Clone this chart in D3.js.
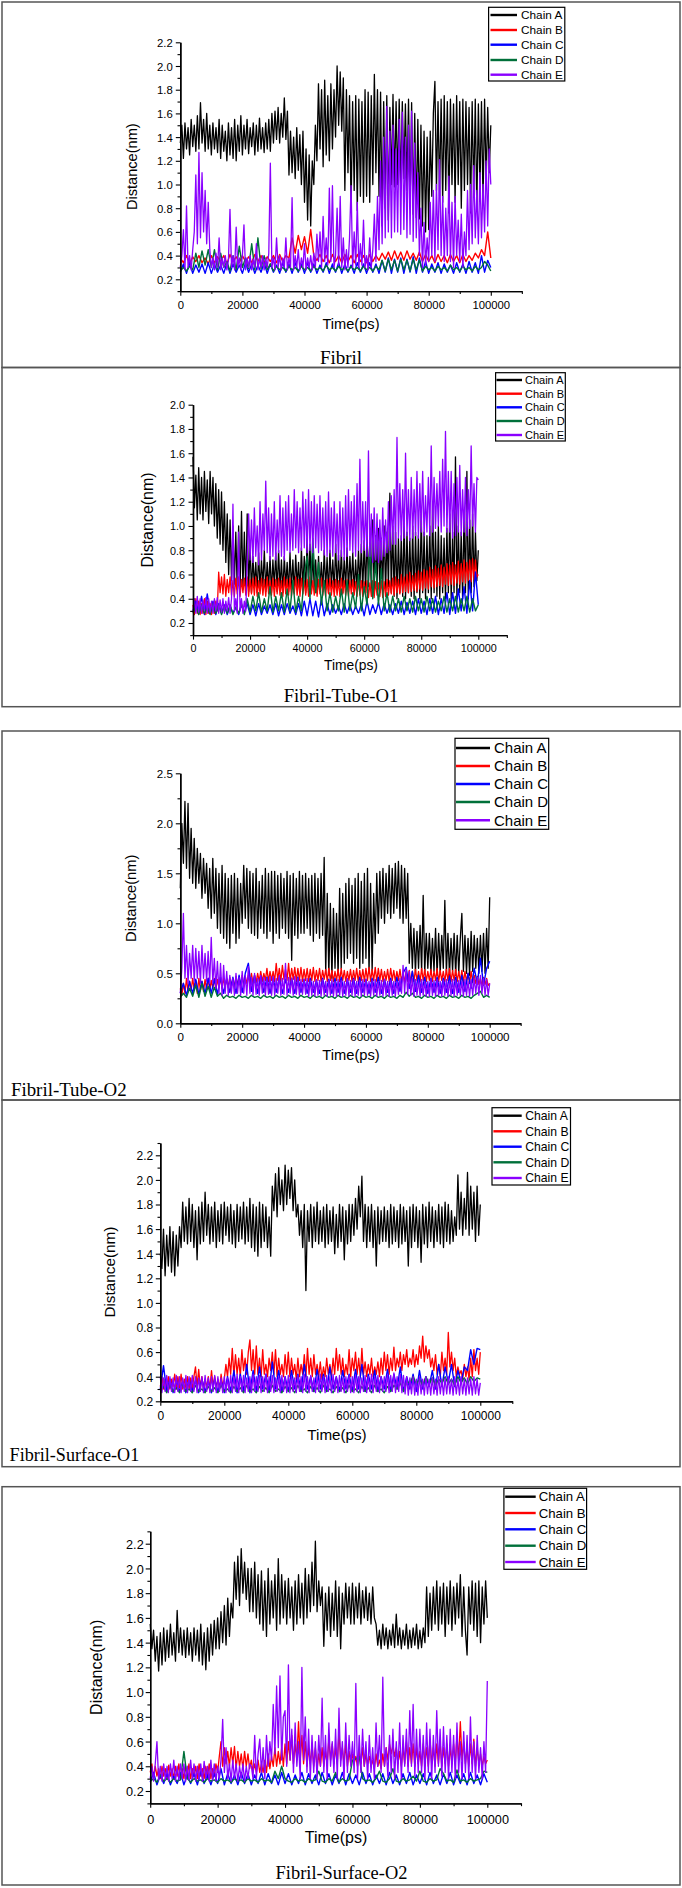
<!DOCTYPE html>
<html><head><meta charset="utf-8">
<script src="https://cdn.jsdelivr.net/npm/d3@7"></script>
<style>
html,body{margin:0;padding:0;background:#fff;}
svg{display:block;}
</style></head><body>
<svg id="c" width="682" height="1888"></svg>
<script>
// ---------------- DATA ----------------
const chains = ["Chain A","Chain B","Chain C","Chain D","Chain E"];
const panelTitles = ["Fibril","Fibril-Tube-O1","Fibril-Tube-O2","Fibril-Surface-O1","Fibril-Surface-O2"];
const xTickValues = [0,20000,40000,60000,80000,100000];
const xMinorValues = [10000,30000,50000,70000,90000,110000];
const yTicks1 = [0.2,0.4,0.6,0.8,1.0,1.2,1.4,1.6,1.8,2.0,2.2];
const yTicks2 = [0.2,0.4,0.6,0.8,1.0,1.2,1.4,1.6,1.8,2.0];
const yTicks3 = [0.0,0.5,1.0,1.5,2.0,2.5];
const yTicks4 = [0.2,0.4,0.6,0.8,1.0,1.2,1.4,1.6,1.8,2.0,2.2];
const yTicks5 = [0.2,0.4,0.6,0.8,1.0,1.2,1.4,1.6,1.8,2.0,2.2];

// Each series is sampled evenly over 0..100000 ps (values in nm).
// Panel 1: Fibril
const p1A = [1.35,1.50,1.22,1.52,1.30,1.48,1.25,1.55,1.32,1.50,1.28,1.58,1.30,1.69,1.35,1.55,1.28,1.60,1.30,1.50,
 1.25,1.52,1.30,1.48,1.27,1.55,1.22,1.50,1.28,1.45,1.20,1.52,1.25,1.48,1.22,1.55,1.20,1.50,1.28,1.58,
 1.25,1.50,1.30,1.55,1.26,1.48,1.32,1.52,1.25,1.50,1.28,1.56,1.30,1.48,1.27,1.52,1.30,1.55,1.28,1.60,
 1.35,1.62,1.38,1.65,1.35,1.60,1.40,1.73,1.38,1.62,1.08,1.45,1.10,1.40,1.05,1.48,1.12,1.42,1.00,1.45,
 0.85,1.30,0.70,1.25,0.65,1.20,1.00,1.50,1.20,1.85,1.30,1.80,1.15,1.88,1.25,1.75,1.20,1.85,1.30,1.80,
 1.40,2.00,1.50,1.95,1.45,1.90,0.95,1.80,1.10,1.75,0.80,1.70,0.95,1.75,0.78,1.72,0.90,1.70,0.85,1.80,
 0.90,1.78,0.85,1.75,1.00,1.93,1.10,1.80,0.90,1.78,0.65,1.70,0.80,1.75,0.70,1.65,1.00,1.76,0.98,1.70,
 1.00,1.72,0.96,1.70,1.05,1.68,0.95,1.72,0.80,1.69,0.75,1.60,0.72,1.55,0.71,1.50,0.65,1.45,0.60,1.40,
 0.62,1.45,0.90,1.60,1.87,0.95,1.70,0.90,1.72,0.85,1.75,0.95,1.70,0.76,1.72,1.00,1.68,0.85,1.75,1.00,
 1.70,0.80,1.72,0.95,1.70,1.00,1.65,0.76,1.70,0.90,1.72,0.78,1.68,0.95,1.70,0.85,1.72,1.00,1.65,1.10,1.50];
const p1B = [0.38,0.34,0.40,0.33,0.39,0.35,0.40,0.34,0.38,0.33,
 0.40,0.34,0.39,0.35,0.40,0.33,0.41,0.35,0.39,0.34,
 0.40,0.35,0.39,0.34,0.41,0.35,0.40,0.34,0.39,0.35,
 0.40,0.34,0.41,0.35,0.40,0.38,0.55,0.42,0.57,0.45,
 0.56,0.42,0.62,0.40,0.36,0.41,0.35,0.40,0.34,0.41,
 0.35,0.40,0.34,0.41,0.35,0.40,0.34,0.41,0.35,0.40,
 0.34,0.41,0.35,0.40,0.36,0.42,0.37,0.43,0.36,0.44,
 0.37,0.43,0.36,0.44,0.37,0.42,0.36,0.43,0.35,0.41,
 0.35,0.40,0.34,0.41,0.35,0.40,0.34,0.41,0.35,0.40,
 0.34,0.41,0.35,0.40,0.36,0.42,0.38,0.45,0.40,0.60,0.38];
const p1C = [0.26,0.33,0.25,0.34,0.25,0.32,0.26,0.33,0.25,0.34,
 0.25,0.33,0.26,0.32,0.25,0.34,0.25,0.33,0.26,0.32,
 0.25,0.34,0.26,0.33,0.25,0.32,0.26,0.34,0.25,0.33,
 0.26,0.32,0.25,0.34,0.26,0.33,0.25,0.34,0.26,0.33,
 0.25,0.34,0.26,0.33,0.25,0.32,0.26,0.34,0.25,0.33,
 0.26,0.34,0.25,0.33,0.26,0.32,0.25,0.34,0.26,0.33,
 0.25,0.34,0.26,0.33,0.25,0.36,0.26,0.38,0.25,0.37,
 0.26,0.38,0.25,0.37,0.26,0.39,0.25,0.38,0.26,0.35,
 0.25,0.33,0.26,0.34,0.25,0.33,0.26,0.32,0.25,0.34,
 0.26,0.33,0.25,0.35,0.26,0.34,0.25,0.40,0.26,0.36,0.30];
const p1D = [0.27,0.30,0.27,0.31,0.28,0.42,0.30,0.44,0.32,0.45,
 0.30,0.45,0.28,0.42,0.30,0.35,0.27,0.40,0.28,0.48,
 0.30,0.38,0.29,0.50,0.28,0.55,0.29,0.40,0.28,0.33,
 0.27,0.31,0.28,0.30,0.27,0.31,0.28,0.30,0.27,0.31,
 0.28,0.30,0.27,0.31,0.28,0.30,0.27,0.32,0.28,0.30,
 0.27,0.31,0.28,0.30,0.27,0.31,0.28,0.30,0.27,0.31,
 0.28,0.30,0.27,0.31,0.28,0.36,0.27,0.37,0.28,0.36,
 0.27,0.37,0.28,0.36,0.27,0.37,0.28,0.36,0.27,0.31,
 0.28,0.30,0.27,0.31,0.28,0.30,0.27,0.32,0.28,0.30,
 0.27,0.31,0.28,0.30,0.27,0.31,0.28,0.30,0.35,0.32,0.27];
const p1E = [0.30,0.40,0.62,0.28,0.82,0.30,0.40,0.28,0.45,0.60,1.08,0.50,1.27,0.55,1.10,0.60,0.95,0.50,0.85,0.45,
 0.30,0.38,0.28,0.42,0.30,0.55,0.28,0.38,0.30,0.40,0.28,0.36,0.79,0.30,0.40,0.28,0.64,0.30,0.38,0.28,
 0.40,0.66,0.28,0.38,0.30,0.40,0.28,0.37,0.30,0.50,0.28,0.38,0.30,0.40,0.28,0.38,0.30,0.42,1.18,0.30,
 0.38,0.28,0.55,0.30,0.40,0.28,0.38,0.30,0.55,0.28,0.38,0.30,0.89,0.28,0.40,0.30,0.45,0.28,0.38,0.30,
 0.50,0.28,0.38,0.30,0.40,0.28,0.42,0.30,0.58,0.35,0.60,0.30,0.73,0.35,0.55,0.32,0.97,0.35,0.99,0.30,
 0.40,0.80,0.32,0.90,0.30,0.55,0.28,0.45,0.30,0.55,0.99,0.30,0.60,0.32,0.85,0.30,0.50,0.32,0.70,0.30,
 0.40,0.28,0.55,0.30,0.45,0.75,0.35,0.90,0.45,1.20,0.50,1.40,0.55,1.66,0.60,1.45,0.55,1.50,0.60,1.30,
 0.60,1.55,0.58,1.61,0.62,1.40,0.55,1.50,0.58,1.62,0.52,1.35,0.55,1.10,0.40,0.80,0.30,0.68,0.32,0.55,
 0.35,0.85,0.40,0.95,0.35,1.00,0.45,1.21,0.40,0.90,0.35,0.80,0.40,1.07,0.35,0.85,0.30,0.90,0.40,0.70,
 0.35,0.75,0.30,0.60,0.40,0.95,0.45,1.00,0.50,1.16,0.55,0.95,0.50,1.10,0.55,1.00,0.60,1.20,0.65,1.30,1.00];

// Panel 2: Fibril-Tube-O1
const p2A = [1.57,1.15,1.42,1.05,1.48,1.10,1.40,1.05,1.45,1.12,1.38,1.02,1.45,1.10,1.40,1.00,1.35,0.90,1.30,0.85,
 1.28,0.80,1.20,0.70,1.10,0.60,1.05,0.55,1.00,0.52,0.95,0.48,1.00,0.45,1.12,0.48,0.95,0.45,1.10,0.46,
 0.85,0.45,0.75,0.50,0.70,0.45,0.78,0.48,0.72,0.50,0.80,0.46,0.70,0.48,0.75,0.45,0.72,0.50,0.78,0.46,
 0.80,0.48,0.72,0.45,0.75,0.50,0.70,0.46,0.78,0.48,0.72,0.45,0.76,0.50,0.70,0.46,0.82,0.48,0.75,0.45,
 0.90,0.50,0.85,0.46,0.78,0.48,0.72,0.45,0.75,0.50,0.70,0.46,0.80,0.48,0.74,0.45,0.80,0.50,0.72,0.46,
 0.85,0.48,0.76,0.50,0.80,0.45,0.74,0.48,0.82,0.46,0.75,0.50,0.78,0.45,0.72,0.48,0.80,0.50,0.85,0.46,
 0.88,0.45,0.95,0.50,0.90,0.48,1.05,0.46,0.92,0.50,0.98,0.45,0.90,0.48,1.00,0.45,0.95,0.50,1.27,0.45,
 1.00,0.42,0.95,0.40,0.90,0.45,0.92,0.42,1.05,0.40,0.95,0.45,0.90,0.42,1.00,0.40,0.95,0.45,0.92,0.40,
 1.10,0.45,0.95,0.40,0.92,0.45,1.00,0.40,1.20,0.45,0.95,0.42,1.00,0.40,0.92,0.45,0.90,0.40,0.98,0.45,
 1.10,0.40,0.95,0.45,1.57,0.40,1.00,0.45,0.95,0.40,1.10,0.45,1.45,0.40,1.05,0.45,1.10,0.50,0.95,0.55,0.80];
const p2B = [0.35,0.27,0.40,0.28,0.38,0.27,0.36,0.28,0.40,0.27,0.38,0.28,0.36,0.27,0.35,0.28,0.38,0.30,0.62,0.45,
 0.58,0.44,0.60,0.42,0.56,0.45,0.58,0.43,0.55,0.42,0.57,0.44,0.58,0.42,0.56,0.45,0.57,0.43,0.58,0.42,
 0.56,0.44,0.57,0.43,0.58,0.42,0.55,0.44,0.57,0.43,0.56,0.42,0.58,0.44,0.55,0.43,0.57,0.42,0.56,0.44,
 0.57,0.43,0.55,0.42,0.58,0.44,0.56,0.43,0.57,0.42,0.55,0.44,0.58,0.43,0.56,0.42,0.57,0.44,0.55,0.43,
 0.56,0.42,0.58,0.44,0.55,0.43,0.57,0.42,0.56,0.44,0.57,0.43,0.55,0.42,0.56,0.44,0.57,0.43,0.55,0.42,
 0.56,0.43,0.55,0.42,0.57,0.44,0.55,0.43,0.56,0.42,0.55,0.44,0.56,0.43,0.54,0.42,0.56,0.43,0.55,0.42,
 0.54,0.43,0.55,0.41,0.53,0.42,0.55,0.41,0.54,0.43,0.53,0.42,0.55,0.41,0.54,0.42,0.56,0.43,0.55,0.44,
 0.57,0.43,0.58,0.45,0.56,0.44,0.60,0.45,0.58,0.46,0.60,0.45,0.62,0.46,0.59,0.47,0.61,0.46,0.63,0.48,
 0.62,0.47,0.64,0.49,0.63,0.48,0.66,0.50,0.64,0.49,0.67,0.50,0.65,0.51,0.68,0.50,0.66,0.52,0.69,0.51,
 0.68,0.52,0.70,0.51,0.68,0.53,0.71,0.52,0.69,0.54,0.72,0.53,0.70,0.55,0.72,0.54,0.73,0.56,0.72,0.58,0.60];
const p2C = [0.30,0.38,0.28,0.42,0.27,0.44,0.28,0.38,0.27,0.36,
 0.28,0.35,0.27,0.34,0.28,0.33,0.27,0.35,0.28,0.36,
 0.27,0.35,0.26,0.36,0.27,0.34,0.28,0.35,0.27,0.36,
 0.26,0.35,0.27,0.36,0.28,0.34,0.27,0.36,0.26,0.38,
 0.26,0.40,0.26,0.38,0.25,0.40,0.26,0.36,0.27,0.35,
 0.28,0.34,0.27,0.36,0.28,0.35,0.27,0.34,0.28,0.36,
 0.26,0.38,0.27,0.35,0.28,0.37,0.27,0.36,0.28,0.35,
 0.27,0.36,0.28,0.38,0.27,0.37,0.28,0.38,0.27,0.40,
 0.28,0.38,0.27,0.40,0.28,0.42,0.27,0.40,0.28,0.45,
 0.27,0.45,0.28,0.48,0.30,0.50,0.28,0.55,0.30,0.62,0.35];
const p2D = [0.28,0.34,0.27,0.35,0.28,0.33,0.27,0.36,0.28,0.35,
 0.27,0.34,0.28,0.35,0.27,0.33,0.28,0.36,0.27,0.40,
 0.29,0.42,0.30,0.45,0.29,0.40,0.30,0.50,0.29,0.42,
 0.30,0.45,0.29,0.48,0.30,0.55,0.29,0.42,0.30,0.60,
 0.75,0.40,0.90,0.45,0.70,0.35,0.55,0.30,0.45,0.29,
 0.42,0.30,0.48,0.29,0.55,0.30,0.45,0.32,0.60,0.30,
 0.50,0.35,0.85,0.40,0.70,0.35,0.65,0.30,0.45,0.29,
 0.42,0.30,0.40,0.29,0.42,0.30,0.40,0.29,0.42,0.30,
 0.40,0.29,0.42,0.30,0.40,0.29,0.38,0.30,0.42,0.29,
 0.40,0.30,0.42,0.29,0.40,0.30,0.42,0.29,0.40,0.30,0.35];
const p2E = [0.30,0.40,0.28,0.42,0.29,0.40,0.28,0.39,0.30,0.41,0.28,0.40,0.29,0.38,0.28,0.40,0.30,0.41,0.28,0.39,
 0.29,0.40,0.28,0.38,0.30,0.41,0.28,0.40,1.18,0.30,0.40,0.28,0.95,0.30,0.40,0.28,0.38,0.30,0.72,1.10,
 0.72,1.05,0.70,1.15,0.75,1.00,0.68,1.20,0.72,1.10,0.80,1.37,0.78,1.15,0.72,1.10,0.75,1.20,0.72,1.05,
 0.78,1.25,0.75,1.15,0.72,1.20,0.80,1.25,0.78,1.10,0.80,1.30,0.82,1.20,0.78,1.15,0.80,1.28,0.82,1.22,
 0.78,1.30,0.80,1.20,0.78,1.25,0.82,1.18,0.78,1.25,0.80,1.15,0.76,1.20,0.75,1.28,0.78,1.15,0.75,1.20,
 0.78,1.10,0.72,1.20,0.75,1.15,0.72,1.25,0.75,1.30,0.80,1.20,0.78,1.25,0.75,1.35,0.80,1.55,0.78,1.20,
 0.80,1.20,0.75,1.62,0.75,1.10,0.70,1.15,0.72,1.10,0.70,1.05,0.72,1.15,0.75,1.05,0.78,1.20,0.80,1.25,
 0.85,1.30,0.85,1.73,0.90,1.35,0.88,1.30,0.90,1.60,0.92,1.30,0.88,1.40,0.90,1.30,0.92,1.45,0.90,1.35,
 0.95,1.45,0.92,1.25,0.95,1.40,0.92,1.66,0.95,1.40,0.98,1.35,1.00,1.45,0.95,1.55,1.00,1.78,0.95,1.45,
 0.95,1.45,0.90,1.35,0.92,1.40,0.95,1.50,0.92,1.30,0.95,1.40,0.92,1.30,0.98,1.66,1.00,1.35,0.95,1.40,1.38];

// Panel 3: Fibril-Tube-O2
const p3A = [1.35,2.00,1.60,2.22,1.55,2.20,1.45,1.95,1.40,1.85,1.35,1.75,1.40,1.70,1.25,1.65,1.30,1.60,1.15,1.55,
 1.05,1.65,1.10,1.55,0.95,1.50,0.90,1.58,0.85,1.50,0.80,1.45,0.75,1.48,0.90,1.50,0.80,1.45,0.85,1.40,
 1.00,1.58,1.05,1.55,0.95,1.52,0.90,1.50,0.88,1.55,0.85,1.42,0.95,1.48,0.90,1.55,0.85,1.50,0.92,1.52,
 0.80,1.52,0.90,1.48,0.85,1.50,0.95,1.45,0.90,1.52,0.85,1.48,0.63,1.50,0.88,1.45,0.85,1.52,0.90,1.48,
 0.90,1.50,0.95,1.45,0.88,1.48,0.82,1.50,0.90,1.45,0.85,1.50,0.88,1.66,0.50,1.30,0.48,1.20,0.45,1.15,
 0.55,1.10,0.48,1.35,0.55,1.30,0.60,1.40,0.65,1.45,0.70,1.38,0.60,1.45,0.65,1.50,0.55,1.42,0.60,1.50,
 0.65,1.55,0.50,1.40,0.52,1.30,0.80,1.50,0.90,1.52,1.05,1.55,1.00,1.50,1.10,1.58,1.05,1.55,1.10,1.60,
 1.15,1.62,1.05,1.58,1.00,1.55,1.05,1.50,0.60,1.00,0.55,0.95,0.50,0.92,0.55,0.98,0.52,1.28,0.50,0.90,
 0.55,0.90,0.50,0.85,0.52,0.95,0.48,0.90,0.50,0.88,0.55,1.23,0.50,0.90,0.48,0.85,0.52,0.90,0.48,0.88,
 0.50,0.85,1.10,0.52,0.88,0.50,0.85,0.48,0.92,0.52,0.88,0.55,0.85,0.50,0.88,0.52,0.90,0.50,0.95,0.55,1.26];
const p3B = [0.35,0.28,0.40,0.30,0.45,0.32,0.42,0.33,0.45,0.34,0.43,0.30,0.45,0.33,0.42,0.32,0.44,0.34,0.45,0.33,
 0.43,0.35,0.45,0.34,0.44,0.36,0.46,0.35,0.45,0.37,0.44,0.36,0.46,0.37,0.45,0.36,0.47,0.38,0.46,0.37,
 0.48,0.38,0.47,0.40,0.48,0.39,0.50,0.40,0.48,0.41,0.50,0.42,0.52,0.42,0.50,0.43,0.55,0.42,0.52,0.43,
 0.52,0.42,0.60,0.43,0.55,0.42,0.58,0.44,0.54,0.43,0.60,0.42,0.55,0.44,0.56,0.42,0.55,0.43,0.56,0.42,
 0.54,0.43,0.55,0.42,0.54,0.43,0.56,0.42,0.53,0.43,0.55,0.42,0.53,0.44,0.54,0.42,0.55,0.43,0.53,0.42,
 0.52,0.43,0.54,0.42,0.55,0.43,0.53,0.42,0.52,0.43,0.54,0.42,0.53,0.43,0.55,0.42,0.53,0.43,0.54,0.42,
 0.55,0.43,0.56,0.42,0.54,0.43,0.56,0.42,0.55,0.43,0.54,0.42,0.52,0.43,0.54,0.42,0.55,0.43,0.53,0.42,
 0.52,0.43,0.54,0.42,0.50,0.41,0.52,0.42,0.53,0.41,0.52,0.42,0.54,0.43,0.52,0.42,0.55,0.43,0.54,0.42,
 0.52,0.43,0.54,0.42,0.52,0.43,0.55,0.42,0.53,0.43,0.52,0.42,0.54,0.43,0.55,0.42,0.53,0.43,0.54,0.42,
 0.52,0.42,0.53,0.41,0.52,0.42,0.50,0.40,0.52,0.41,0.48,0.40,0.47,0.39,0.45,0.38,0.46,0.39,0.45,0.38,0.40];
const p3C = [0.30,0.40,0.28,0.42,0.30,0.44,0.29,0.42,0.30,0.45,
 0.30,0.44,0.29,0.46,0.30,0.45,0.31,0.46,0.30,0.48,
 0.31,0.50,0.60,0.32,0.48,0.30,0.47,0.31,0.46,0.30,
 0.45,0.31,0.46,0.30,0.44,0.31,0.45,0.30,0.46,0.31,
 0.44,0.30,0.45,0.31,0.43,0.30,0.45,0.31,0.44,0.30,
 0.45,0.31,0.46,0.30,0.44,0.31,0.45,0.30,0.46,0.31,
 0.44,0.30,0.45,0.31,0.46,0.30,0.44,0.31,0.45,0.30,
 0.46,0.32,0.50,0.56,0.35,0.52,0.32,0.48,0.31,0.46,
 0.30,0.45,0.31,0.46,0.30,0.45,0.31,0.47,0.30,0.46,
 0.31,0.48,0.32,0.50,0.35,0.55,0.40,0.65,0.38,0.55,0.62];
const p3D = [0.26,0.30,0.26,0.35,0.27,0.38,0.26,0.40,0.27,0.37,
 0.26,0.36,0.27,0.30,0.25,0.28,0.26,0.27,0.25,0.28,
 0.26,0.27,0.25,0.28,0.26,0.27,0.25,0.28,0.26,0.27,
 0.25,0.28,0.26,0.27,0.25,0.28,0.26,0.27,0.25,0.28,
 0.26,0.27,0.25,0.28,0.26,0.27,0.25,0.28,0.26,0.27,
 0.25,0.28,0.26,0.27,0.25,0.28,0.26,0.27,0.25,0.28,
 0.26,0.27,0.25,0.28,0.26,0.27,0.25,0.28,0.26,0.27,
 0.25,0.28,0.26,0.31,0.27,0.30,0.26,0.27,0.25,0.28,
 0.26,0.27,0.25,0.28,0.26,0.27,0.25,0.28,0.26,0.27,
 0.25,0.28,0.26,0.27,0.25,0.28,0.30,0.32,0.26,0.28,0.26];
const p3E = [0.30,0.55,1.10,0.45,0.78,0.40,0.70,0.45,0.78,0.42,0.75,0.45,0.72,0.40,0.78,0.45,0.70,0.42,0.72,0.40,
 0.86,0.40,0.65,0.35,0.62,0.30,0.60,0.28,0.58,0.30,0.52,0.28,0.48,0.30,0.45,0.28,0.50,0.30,0.46,0.28,
 0.52,0.30,0.48,0.28,0.57,0.30,0.46,0.28,0.50,0.29,0.45,0.28,0.48,0.30,0.46,0.28,0.45,0.29,0.47,0.28,
 0.47,0.28,0.45,0.30,0.48,0.28,0.45,0.29,0.60,0.28,0.46,0.30,0.45,0.28,0.47,0.29,0.45,0.28,0.44,0.29,
 0.44,0.29,0.45,0.27,0.43,0.28,0.42,0.27,0.44,0.28,0.43,0.27,0.44,0.28,0.42,0.27,0.43,0.28,0.44,0.27,
 0.42,0.27,0.44,0.28,0.43,0.27,0.42,0.28,0.45,0.27,0.43,0.28,0.44,0.27,0.42,0.28,0.43,0.27,0.44,0.28,
 0.44,0.28,0.42,0.27,0.43,0.28,0.44,0.27,0.42,0.28,0.43,0.27,0.44,0.28,0.42,0.27,0.43,0.28,0.42,0.27,
 0.42,0.29,0.45,0.30,0.58,0.30,0.55,0.29,0.52,0.28,0.45,0.27,0.44,0.28,0.43,0.27,0.44,0.28,0.42,0.27,
 0.42,0.27,0.44,0.28,0.43,0.27,0.44,0.28,0.42,0.27,0.43,0.28,0.44,0.27,0.42,0.28,0.44,0.27,0.43,0.28,
 0.43,0.28,0.42,0.27,0.44,0.28,0.42,0.27,0.44,0.28,0.45,0.30,0.46,0.28,0.48,0.30,0.45,0.28,0.44,0.28,0.40];

// Panel 4: Fibril-Surface-O1
const p4A = [1.40,1.28,1.60,1.22,1.55,1.30,1.62,1.25,1.58,1.22,1.55,1.30,1.62,1.45,1.82,1.50,1.78,1.48,1.85,1.50,
 1.80,1.45,1.75,1.35,1.78,1.48,1.82,1.50,1.90,1.55,1.80,1.48,1.78,1.50,1.82,1.45,1.75,1.50,1.80,1.48,
 1.82,1.55,1.78,1.50,1.80,1.48,1.75,1.45,1.80,1.50,1.78,1.52,1.82,1.48,1.78,1.50,1.85,1.45,1.80,1.42,
 1.78,1.38,1.82,1.45,1.80,1.50,1.78,1.45,1.70,1.38,1.95,1.75,2.05,1.70,2.10,1.80,2.00,1.75,2.12,1.80,
 2.08,1.85,2.10,1.75,2.00,1.70,1.80,1.55,1.75,1.45,1.80,1.10,1.75,1.50,1.80,1.45,1.78,1.50,1.82,1.48,
 1.75,1.50,1.78,1.45,1.80,1.48,1.75,1.50,1.78,1.40,1.72,1.45,1.80,1.50,1.78,1.35,1.75,1.48,1.80,1.50,
 1.80,1.55,1.85,1.60,1.95,1.70,2.03,1.50,1.80,1.45,1.78,1.50,1.80,1.45,1.75,1.30,1.78,1.48,1.75,1.50,
 1.78,1.50,1.75,1.45,1.80,1.48,1.78,1.50,1.75,1.45,1.80,1.48,1.78,1.50,1.75,1.30,1.78,1.45,1.80,1.50,
 1.78,1.45,1.75,1.33,1.80,1.48,1.78,1.45,1.82,1.50,1.78,1.45,1.75,1.50,1.80,1.48,1.78,1.45,1.82,1.50,
 1.80,1.48,1.75,1.50,1.70,1.55,2.04,1.60,1.90,1.55,1.85,1.60,2.06,1.55,1.95,1.60,1.90,1.50,1.95,1.55,1.80];
const p4B = [0.32,0.40,0.30,0.38,0.31,0.40,0.30,0.38,0.32,0.42,0.30,0.40,0.31,0.42,0.30,0.38,0.31,0.40,0.30,0.39,
 0.30,0.40,0.48,0.32,0.46,0.31,0.40,0.30,0.38,0.31,0.40,0.30,0.45,0.32,0.40,0.31,0.38,0.30,0.42,0.32,
 0.38,0.50,0.40,0.55,0.42,0.63,0.40,0.58,0.42,0.55,0.40,0.62,0.45,0.55,0.42,0.60,0.70,0.45,0.62,0.42,
 0.65,0.42,0.55,0.40,0.62,0.42,0.50,0.40,0.55,0.45,0.60,0.42,0.62,0.40,0.55,0.42,0.50,0.40,0.58,0.42,
 0.60,0.40,0.55,0.42,0.50,0.38,0.55,0.40,0.50,0.42,0.58,0.40,0.63,0.42,0.55,0.40,0.58,0.42,0.50,0.40,
 0.52,0.38,0.48,0.40,0.55,0.42,0.50,0.40,0.55,0.42,0.63,0.45,0.58,0.42,0.55,0.40,0.50,0.42,0.62,0.40,
 0.55,0.45,0.60,0.42,0.55,0.40,0.63,0.42,0.52,0.40,0.50,0.42,0.55,0.40,0.48,0.42,0.52,0.40,0.55,0.42,
 0.60,0.45,0.58,0.42,0.55,0.45,0.64,0.45,0.55,0.48,0.60,0.45,0.58,0.50,0.62,0.48,0.55,0.50,0.62,0.48,
 0.58,0.50,0.65,0.55,0.73,0.52,0.65,0.55,0.62,0.48,0.55,0.45,0.58,0.42,0.50,0.40,0.60,0.45,0.55,0.42,
 0.76,0.48,0.60,0.45,0.55,0.40,0.48,0.42,0.45,0.38,0.50,0.40,0.48,0.38,0.55,0.40,0.62,0.45,0.55,0.42,0.60];
const p4C = [0.30,0.49,0.28,0.38,0.27,0.37,0.28,0.36,0.27,0.38,
 0.28,0.37,0.27,0.38,0.28,0.36,0.27,0.38,0.28,0.37,
 0.27,0.40,0.28,0.45,0.27,0.42,0.28,0.50,0.27,0.45,
 0.28,0.48,0.30,0.42,0.28,0.52,0.30,0.45,0.28,0.40,
 0.28,0.45,0.30,0.42,0.28,0.50,0.30,0.40,0.28,0.46,
 0.30,0.42,0.28,0.48,0.30,0.40,0.28,0.45,0.30,0.42,
 0.28,0.46,0.30,0.50,0.28,0.42,0.30,0.45,0.28,0.40,
 0.30,0.46,0.28,0.42,0.30,0.48,0.28,0.40,0.30,0.42,
 0.28,0.45,0.30,0.40,0.32,0.45,0.30,0.50,0.32,0.48,
 0.35,0.50,0.32,0.45,0.35,0.48,0.45,0.62,0.50,0.63,0.62];
const p4D = [0.28,0.32,0.27,0.33,0.28,0.31,0.27,0.34,0.28,0.30,
 0.27,0.33,0.28,0.30,0.27,0.32,0.28,0.31,0.27,0.33,
 0.28,0.30,0.27,0.32,0.28,0.31,0.27,0.33,0.28,0.30,
 0.27,0.32,0.28,0.31,0.27,0.33,0.28,0.30,0.27,0.32,
 0.28,0.31,0.27,0.33,0.28,0.30,0.27,0.32,0.28,0.31,
 0.27,0.33,0.28,0.30,0.27,0.32,0.28,0.31,0.27,0.33,
 0.28,0.30,0.27,0.32,0.28,0.31,0.27,0.33,0.28,0.30,
 0.27,0.32,0.28,0.33,0.30,0.35,0.28,0.36,0.35,0.40,
 0.34,0.38,0.33,0.40,0.34,0.39,0.33,0.38,0.35,0.40,
 0.34,0.38,0.33,0.40,0.35,0.39,0.34,0.40,0.36,0.39,0.38];
const p4E = [0.40,0.27,0.39,0.28,0.41,0.27,0.40,0.28,0.39,0.27,0.41,0.28,0.40,0.27,0.39,0.28,0.41,0.27,0.40,0.28,
 0.41,0.28,0.40,0.27,0.39,0.28,0.40,0.27,0.41,0.28,0.39,0.27,0.40,0.28,0.41,0.27,0.40,0.28,0.39,0.27,
 0.40,0.27,0.39,0.28,0.41,0.27,0.40,0.28,0.42,0.27,0.40,0.28,0.41,0.27,0.39,0.28,0.40,0.27,0.42,0.28,
 0.40,0.28,0.41,0.27,0.40,0.28,0.42,0.27,0.40,0.28,0.41,0.27,0.39,0.28,0.40,0.27,0.41,0.28,0.40,0.27,
 0.41,0.27,0.40,0.28,0.39,0.27,0.41,0.28,0.40,0.27,0.42,0.28,0.40,0.27,0.41,0.28,0.39,0.27,0.40,0.28,
 0.42,0.28,0.40,0.27,0.41,0.28,0.40,0.27,0.42,0.28,0.40,0.27,0.41,0.28,0.39,0.27,0.40,0.28,0.41,0.27,
 0.40,0.27,0.41,0.28,0.40,0.27,0.39,0.28,0.41,0.27,0.40,0.28,0.42,0.27,0.40,0.28,0.41,0.27,0.40,0.28,
 0.40,0.28,0.42,0.27,0.41,0.28,0.43,0.27,0.40,0.28,0.42,0.27,0.41,0.26,0.40,0.25,0.39,0.26,0.40,0.25,
 0.38,0.25,0.40,0.26,0.38,0.25,0.40,0.26,0.38,0.25,0.39,0.26,0.38,0.25,0.40,0.26,0.38,0.25,0.39,0.26,
 0.40,0.26,0.38,0.25,0.40,0.26,0.38,0.25,0.40,0.26,0.38,0.25,0.39,0.26,0.38,0.25,0.40,0.26,0.38,0.25,0.35];

// Panel 5: Fibril-Surface-O2
const p5A = [1.55,1.35,1.50,1.25,1.45,1.17,1.48,1.22,1.52,1.25,1.50,1.28,1.55,1.30,1.48,1.25,1.66,1.32,1.52,1.30,
 1.50,1.28,1.52,1.30,1.48,1.25,1.52,1.30,1.50,1.25,1.55,1.22,1.48,1.18,1.52,1.25,1.55,1.30,1.58,1.35,
 1.60,1.35,1.65,1.40,1.70,1.38,1.76,1.45,1.72,1.60,2.05,1.75,2.10,1.70,2.16,1.80,2.05,1.75,2.00,1.65,
 2.00,1.65,2.05,1.60,1.95,1.55,1.98,1.50,1.90,1.45,2.00,1.55,1.90,1.60,1.95,1.50,2.08,1.55,1.95,1.60,
 1.90,1.55,1.92,1.60,1.85,1.50,1.90,1.55,1.95,1.60,1.88,1.55,2.00,1.60,1.95,1.65,2.05,1.70,2.22,1.65,
 1.90,1.70,1.85,1.37,1.80,1.50,1.85,1.45,1.80,1.50,1.90,1.45,1.85,1.35,1.80,1.55,1.88,1.60,1.85,1.55,
 1.88,1.55,1.85,1.60,1.88,1.55,1.82,1.60,1.85,1.58,1.80,1.55,1.85,1.60,1.55,1.38,1.50,1.35,1.55,1.38,
 1.52,1.35,1.50,1.38,1.55,1.36,1.63,1.38,1.52,1.35,1.50,1.38,1.55,1.35,1.50,1.36,1.52,1.38,1.55,1.35,
 1.50,1.36,1.52,1.40,1.85,1.45,1.80,1.50,1.85,1.55,1.90,1.50,1.85,1.55,1.88,1.45,1.85,1.55,1.90,1.50,
 1.85,1.55,1.88,1.60,1.95,1.45,1.85,1.50,1.30,1.85,1.55,1.90,1.50,1.88,1.45,1.90,1.40,1.85,1.55,1.90,1.60];
const p5B = [0.35,0.42,0.30,0.40,0.32,0.38,0.30,0.40,0.32,0.38,0.30,0.41,0.32,0.38,0.30,0.40,0.32,0.42,0.30,0.38,
 0.30,0.40,0.32,0.42,0.30,0.38,0.32,0.40,0.30,0.42,0.32,0.38,0.30,0.40,0.32,0.42,0.30,0.38,0.32,0.42,
 0.35,0.48,0.60,0.40,0.55,0.42,0.52,0.40,0.55,0.42,0.56,0.38,0.52,0.40,0.50,0.38,0.52,0.40,0.50,0.38,
 0.45,0.35,0.42,0.35,0.45,0.35,0.42,0.35,0.45,0.35,0.50,0.38,0.48,0.40,0.55,0.40,0.52,0.42,0.55,0.40,
 0.58,0.42,0.60,0.45,0.65,0.42,0.58,0.45,0.76,0.45,0.65,0.42,0.60,0.40,0.55,0.42,0.58,0.40,0.55,0.38,
 0.50,0.40,0.55,0.40,0.52,0.42,0.62,0.45,0.58,0.42,0.55,0.42,0.68,0.45,0.55,0.42,0.58,0.40,0.52,0.42,
 0.50,0.42,0.48,0.40,0.52,0.42,0.55,0.40,0.50,0.42,0.48,0.40,0.45,0.38,0.50,0.40,0.45,0.38,0.50,0.40,
 0.55,0.45,0.58,0.50,0.57,0.48,0.55,0.42,0.52,0.40,0.55,0.42,0.60,0.40,0.55,0.42,0.58,0.40,0.55,0.42,
 0.52,0.40,0.58,0.42,0.55,0.40,0.62,0.42,0.55,0.40,0.58,0.42,0.60,0.40,0.55,0.42,0.58,0.40,0.55,0.42,
 0.58,0.42,0.65,0.45,0.76,0.45,0.60,0.42,0.55,0.40,0.58,0.42,0.62,0.40,0.55,0.42,0.50,0.40,0.48,0.42,0.45];
const p5C = [0.27,0.35,0.25,0.33,0.26,0.34,0.25,0.32,0.26,0.35,
 0.25,0.33,0.26,0.34,0.25,0.36,0.26,0.33,0.25,0.34,
 0.26,0.38,0.25,0.34,0.26,0.33,0.25,0.35,0.26,0.34,
 0.25,0.33,0.26,0.35,0.25,0.34,0.26,0.33,0.25,0.35,
 0.26,0.34,0.25,0.33,0.26,0.35,0.25,0.34,0.26,0.33,
 0.25,0.35,0.26,0.34,0.25,0.33,0.26,0.35,0.25,0.34,
 0.26,0.33,0.25,0.35,0.26,0.34,0.25,0.33,0.26,0.34,
 0.25,0.35,0.26,0.33,0.25,0.34,0.26,0.35,0.25,0.33,
 0.26,0.34,0.25,0.35,0.26,0.33,0.25,0.34,0.26,0.35,
 0.25,0.33,0.26,0.34,0.25,0.35,0.26,0.33,0.25,0.34,0.27];
const p5D = [0.28,0.30,0.27,0.33,0.28,0.30,0.27,0.30,0.28,0.29,
 0.52,0.30,0.27,0.30,0.28,0.29,0.27,0.30,0.28,0.29,
 0.27,0.30,0.28,0.29,0.27,0.30,0.28,0.29,0.27,0.30,
 0.28,0.29,0.27,0.30,0.28,0.29,0.27,0.36,0.30,0.40,
 0.30,0.28,0.27,0.30,0.28,0.29,0.27,0.30,0.28,0.29,
 0.36,0.28,0.27,0.30,0.28,0.35,0.27,0.30,0.28,0.29,
 0.45,0.46,0.48,0.30,0.28,0.29,0.27,0.30,0.36,0.28,
 0.27,0.30,0.38,0.28,0.27,0.30,0.28,0.29,0.32,0.28,
 0.36,0.28,0.27,0.30,0.28,0.29,0.38,0.34,0.28,0.29,
 0.27,0.37,0.28,0.29,0.27,0.30,0.28,0.29,0.30,0.36,0.35];
const p5E = [0.30,0.40,0.28,0.42,0.60,0.29,0.40,0.28,0.42,0.29,0.40,0.28,0.42,0.30,0.45,0.28,0.40,0.29,0.42,0.30,
 0.42,0.28,0.40,0.29,0.45,0.30,0.42,0.28,0.40,0.29,0.42,0.28,0.44,0.30,0.40,0.28,0.45,0.29,0.42,0.28,
 0.40,0.30,0.45,0.78,0.35,0.55,0.30,0.42,0.28,0.45,0.30,0.42,0.28,0.40,0.30,0.42,0.28,0.40,0.30,0.42,
 0.40,0.30,0.65,0.30,0.50,0.62,0.35,0.55,0.30,0.65,0.40,0.60,0.45,0.90,0.50,1.05,0.55,1.13,0.45,0.80,
 0.85,0.40,1.22,0.45,0.70,0.35,0.75,0.40,0.60,0.30,1.20,0.45,0.80,0.35,0.70,0.30,0.65,0.35,0.60,0.30,
 0.65,0.40,0.95,0.35,0.65,0.30,0.75,0.40,0.60,0.35,0.70,0.30,0.87,0.40,0.60,0.30,0.75,0.35,0.65,0.40,
 0.60,0.35,1.07,0.30,0.65,0.35,0.70,0.40,0.60,0.30,0.65,0.35,0.55,0.30,0.75,0.40,0.65,0.35,1.12,0.40,
 0.55,0.32,0.65,0.35,0.70,0.30,0.60,0.35,0.75,0.30,0.65,0.40,0.70,0.35,0.85,0.40,0.90,0.32,0.70,0.35,
 0.70,0.35,0.65,0.30,0.75,0.35,0.70,0.30,0.65,0.35,0.85,0.40,0.70,0.32,0.72,0.35,0.65,0.30,0.70,0.35,
 0.65,0.30,0.75,0.35,0.60,0.30,0.68,0.35,0.65,0.30,0.80,0.35,0.60,0.30,0.65,0.35,0.55,0.30,0.60,0.35,1.09];

// ---------------- LAYOUT / STYLE ----------------
const colors = ["#000000","#ff0000","#0000ff","#00703a","#8a00ff"];
const sans = "'Liberation Sans', Arial, Helvetica, sans-serif";
const serif = "'Liberation Serif', 'Times New Roman', serif";

const panels = [
 {series:[p1A,p1B,p1C,p1D,p1E], box:[2,2,680,367.5], xR:[180.3,490.8],
  yRef:[0.2,279.3,2.2,42.3], yAxis:[0.1,2.2], yTicks:yTicks1, yMinorStep:0.1, yFmt:".1f",
  tickFs:11.3, xTickBase:308.6, yGap:7.5, labFs:14.6, xLab:[351,328.6], yLabX:132,
  leg:{x:488.6,y:7.3,w:76.2,h:73.7,rows:[15,30,44.7,60,74.7],l0:490.5,l1:517,tx:521,fs:11.8},
  title:{x:341,y:364,anchor:"middle",fs:19}},
 {series:[p2A,p2B,p2C,p2D,p2E], box:[2,367.5,680,706.7], xR:[193,478.3],
  yRef:[0.2,623,2.0,404.7], yAxis:[0.1,2.0], yTicks:yTicks2, yMinorStep:0.1, yFmt:".1f",
  tickFs:10.8, xTickBase:652.5, yGap:8, labFs:13.8, xLab:[351,669.5], yLabX:146.8, yLabFs:16,
  leg:{x:495.6,y:372.7,w:69.7,h:68.3,rows:[380,393.7,407.3,421,435],l0:496.5,l1:522,tx:525,fs:11},
  title:{x:341,y:702,anchor:"middle",fs:18.7}},
 {series:[p3A,p3B,p3C,p3D,p3E], box:[2,731,680,1100], xR:[180.3,489.7],
  yRef:[0,1023.3,2.5,773.3], yAxis:[0,2.5], yTicks:yTicks3, yMinorStep:0.25, yFmt:".1f",
  tickFs:11.6, xTickBase:1041.5, yGap:7.4, labFs:14.7, xLab:[351,1059.5], yLabX:130.6,
  leg:{x:455,y:738.3,w:93.7,h:91,rows:[748,766,784,802,820.3],l0:456,l1:490,tx:494,fs:15},
  title:{x:10.9,y:1096,anchor:"start",fs:18.9}},
 {series:[p4A,p4B,p4C,p4D,p4E], box:[2,1100,680,1466.7], xR:[160.3,480.3],
  yRef:[0.2,1401.3,2.2,1155.3], yAxis:[0.2,2.3], yTicks:yTicks4, yMinorStep:0.1, yFmt:".1f",
  tickFs:12, xTickBase:1420, yGap:7, labFs:15.2, xLab:[337,1439.5], yLabX:109.7, yLabFs:15.3,
  leg:{x:492,y:1107.7,w:78.5,h:77.3,rows:[1115.7,1131.3,1146.7,1162.3,1178],l0:493.4,l1:521.7,tx:525.2,fs:12.2},
  title:{x:9.6,y:1461,anchor:"start",fs:18.1}},
 {series:[p5A,p5B,p5C,p5D,p5E], box:[2,1486.7,680,1885], xR:[150.2,487.3],
  yRef:[0.2,1791,2.2,1543.7], yAxis:[0.1,2.3], yTicks:yTicks5, yMinorStep:0.1, yFmt:".1f",
  tickFs:12.7, xTickBase:1824, yGap:6.5, labFs:16, xLab:[336,1843], yLabX:96.7, yLabFs:16,
  leg:{x:503.9,y:1488.3,w:82.7,h:81,rows:[1496.7,1513,1529.3,1545.7,1562],l0:505.2,l1:535.7,tx:538.7,fs:13.2},
  title:{x:341.5,y:1878.5,anchor:"middle",fs:18.4}}
];

const svg = d3.select("#c");

panels.forEach((P, pi) => {
  const g = svg.append("g");
  g.append("rect").attr("x",P.box[0]).attr("y",P.box[1])
    .attr("width",P.box[2]-P.box[0]).attr("height",P.box[3]-P.box[1])
    .attr("fill","none").attr("stroke","#555").attr("stroke-width",1.5);

  const x = d3.scaleLinear().domain([0,110000])
    .range([P.xR[0], P.xR[0] + 1.1*(P.xR[1]-P.xR[0])]);
  const base = d3.scaleLinear().domain([P.yRef[0],P.yRef[2]]).range([P.yRef[1],P.yRef[3]]);
  const y = d3.scaleLinear().domain(P.yAxis).range(P.yAxis.map(base));

  const line = d3.line()
    .x((d,i,arr)=> x(i*100000/(arr.length-1)))
    .y(d=> y(d));
  P.series.forEach((s, si) => {
    const w = s.length > 150 ? 1.3 : 1.4;
    g.append("path").datum(s).attr("d", line)
      .attr("fill","none").attr("stroke", colors[si])
      .attr("stroke-width",w).attr("stroke-linejoin","round");
  });

  const axisY = y(P.yAxis[0]);
  const gx = g.append("g").attr("transform",`translate(0,${axisY})`);
  gx.call(d3.axisBottom(x).tickValues(xTickValues).tickFormat(d3.format("d")).tickSize(4.5).tickSizeOuter(0));
  const gxm = g.append("g").attr("transform",`translate(0,${axisY})`);
  gxm.call(d3.axisBottom(x).tickValues(xMinorValues).tickFormat("").tickSize(2.8).tickSizeOuter(0));
  gx.selectAll("text").attr("y", P.xTickBase-axisY).attr("dy",0)
    .style("font-family",sans).style("font-size",P.tickFs+"px").attr("fill","#000");

  const minor = [];
  for (let k=0; ; k++) {
    const v = +(P.yAxis[0] + k*P.yMinorStep).toFixed(3);
    if (v > P.yAxis[1]+1e-9) break;
    if (!P.yTicks.some(t=>Math.abs(t-v)<1e-6)) minor.push(v);
  }
  const gy = g.append("g").attr("transform",`translate(${P.xR[0]},0)`);
  gy.call(d3.axisLeft(y).tickValues(P.yTicks).tickFormat(d3.format(P.yFmt)).tickSize(4.5).tickSizeOuter(0));
  const gym = g.append("g").attr("transform",`translate(${P.xR[0]},0)`);
  gym.call(d3.axisLeft(y).tickValues(minor).tickFormat("").tickSize(2.8).tickSizeOuter(0));
  gy.selectAll("text").attr("x", -P.yGap).attr("dy","0.36em")
    .style("font-family",sans).style("font-size",P.tickFs+"px").attr("fill","#000");

  g.selectAll(".domain").attr("stroke","#000").attr("stroke-width",1.4);
  g.selectAll(".tick line").attr("stroke","#000").attr("stroke-width",1.1);

  g.append("text").attr("x",P.xLab[0]).attr("y",P.xLab[1]).attr("text-anchor","middle")
    .style("font-family",sans).style("font-size",P.labFs+"px").text("Time(ps)");
  const yfs = P.yLabFs || P.labFs;
  const ycy = (y(P.yAxis[0])+y(P.yAxis[1]))/2;
  g.append("text").attr("text-anchor","middle")
    .attr("transform",`translate(${P.yLabX + 0.36*yfs},${ycy}) rotate(-90)`)
    .style("font-family",sans).style("font-size",yfs+"px").text("Distance(nm)");

  const L = P.leg;
  g.append("rect").attr("x",L.x).attr("y",L.y).attr("width",L.w).attr("height",L.h)
    .attr("fill","#fff").attr("stroke","#000").attr("stroke-width",1.2);
  chains.forEach((c,ci) => {
    g.append("line").attr("x1",L.l0).attr("x2",L.l1).attr("y1",L.rows[ci]).attr("y2",L.rows[ci])
      .attr("stroke",colors[ci]).attr("stroke-width",2.4);
    g.append("text").attr("x",L.tx).attr("y",L.rows[ci]).attr("dy","0.36em")
      .style("font-family",sans).style("font-size",L.fs+"px").text(c);
  });

  g.append("text").attr("x",P.title.x).attr("y",P.title.y).attr("text-anchor",P.title.anchor)
    .style("font-family",serif).style("font-size",P.title.fs+"px").text(panelTitles[pi]);
});
</script>
</body></html>
